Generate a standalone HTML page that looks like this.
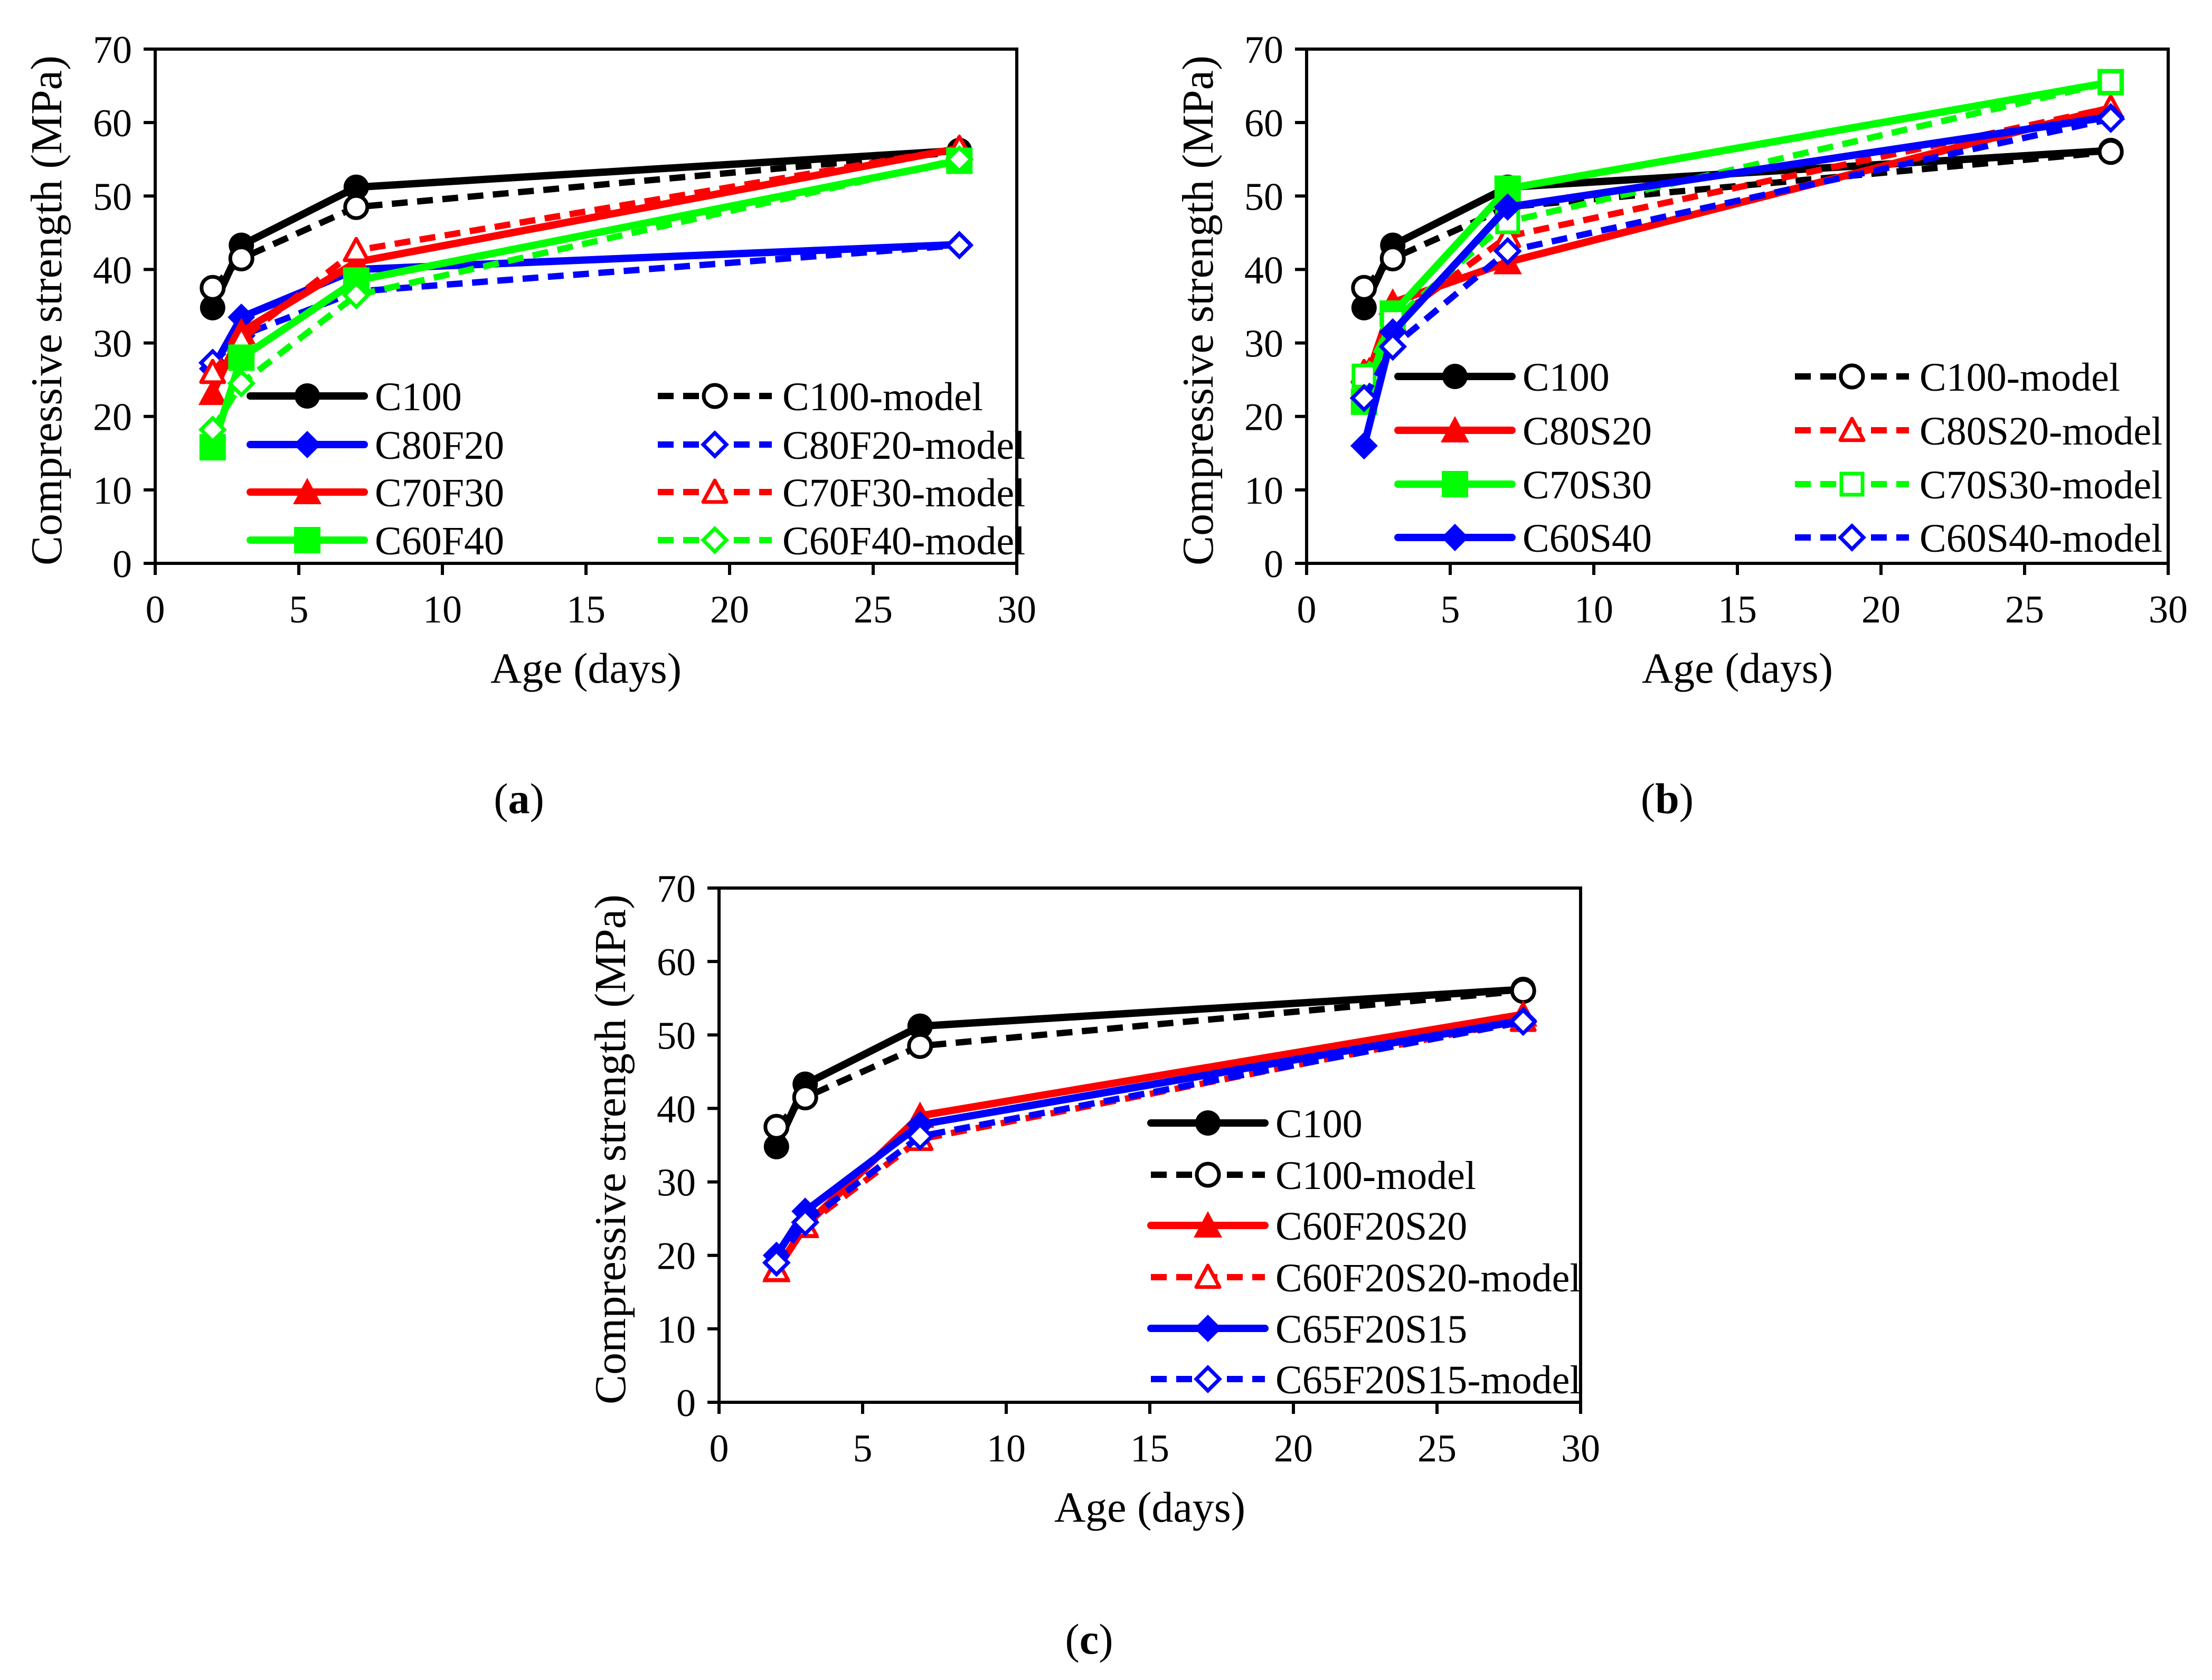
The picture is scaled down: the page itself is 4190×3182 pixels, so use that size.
<!DOCTYPE html>
<html><head><meta charset="utf-8"><style>
html,body{margin:0;padding:0;background:#fff}
svg{display:block}
text{font-family:"Liberation Serif",serif;fill:#000}
</style></head><body>
<svg id="chart" width="4190" height="3182" viewBox="0 0 4190 3182" xmlns="http://www.w3.org/2000/svg">
<rect width="4190" height="3182" fill="#fff"/>
</svg>
<script>
const ages = [2, 3, 7, 28];
const xTicks = [0, 5, 10, 15, 20, 25, 30];
const yTicks = [0, 10, 20, 30, 40, 50, 60, 70];
// panel a
const aC100 = [34.8, 43.3, 51.2, 56.2];
const aC100m = [37.5, 41.5, 48.5, 56.0];
const aC80F20 = [26.5, 33.5, 40.0, 43.4];
const aC80F20m = [27.3, 31.0, 37.0, 43.3];
const aC70F30 = [23.2, 31.5, 41.0, 56.5];
const aC70F30m = [26.0, 30.5, 42.6, 56.5];
const aC60F40 = [15.8, 28.0, 38.5, 54.8];
const aC60F40m = [18.2, 24.5, 36.5, 55.0];
// panel b
const bC100 = [34.8, 43.3, 51.2, 56.2];
const bC100m = [37.5, 41.5, 48.5, 56.0];
const bC80S20 = [24.0, 35.5, 41.0, 62.0];
const bC80S20m = [26.0, 33.0, 44.5, 62.0];
const bC70S30 = [22.0, 34.0, 51.0, 65.5];
const bC70S30m = [25.5, 33.0, 46.5, 65.5];
const bC60S40 = [16.0, 31.5, 48.5, 60.8];
const bC60S40m = [22.5, 29.5, 42.5, 60.5];
// panel c
const cC100 = [34.8, 43.3, 51.2, 56.2];
const cC100m = [37.5, 41.5, 48.5, 56.0];
const cC60F20S20 = [18.0, 24.0, 39.0, 52.8];
const cC60F20S20m = [18.0, 24.0, 35.8, 52.0];
const cC65F20S15 = [20.0, 26.0, 37.8, 52.0];
const cC65F20S15m = [19.0, 24.5, 36.2, 51.8];

const NS = "http://www.w3.org/2000/svg";
const svg = document.getElementById('chart');
function mk(tag, attrs, parent) {
  const e = document.createElementNS(NS, tag);
  for (const k in attrs) e.setAttribute(k, attrs[k]);
  (parent || svg).appendChild(e);
  return e;
}
const COL = {k:'#000', b:'#0000ff', r:'#ff0000', g:'#00ff00'};

function marker(g, type, color, open, cx, cy) {
  const fill = open ? '#fff' : color;
  const sw = open ? 7 : 0;
  let m;
  if (type === 'circle') m = mk('circle', {cx, cy, r: open ? 21 : 24, fill, stroke: color, 'stroke-width': sw}, g);
  else if (type === 'diamond') { const s = open ? 22 : 26; m = mk('polygon', {points: `${cx},${cy-s} ${cx+s},${cy} ${cx},${cy+s} ${cx-s},${cy}`, fill, stroke: color, 'stroke-width': sw}, g); }
  else if (type === 'triangle') { const s = open ? 22 : 27; m = mk('polygon', {points: `${cx},${cy-s} ${cx+s},${cy+s*0.85} ${cx-s},${cy+s*0.85}`, fill, stroke: color, 'stroke-width': sw, 'stroke-linejoin':'round'}, g); }
  else { const s = open ? 20 : 25; m = mk('rect', {x: cx-s, y: cy-s, width: 2*s, height: 2*s, fill, stroke: color, 'stroke-width': sw}, g); }
  
  
}

function panel(id, x0, y0, series, legendPos, caption, capX, capY) {
  const W = 1632, H = 974;
  const sx = v => x0 + v / 30 * W;
  const sy = v => y0 - v / 70 * H;
  const g = mk('g', {});
  
  
  const box = mk('rect', {x: x0, y: y0 - H, width: W, height: H, fill: 'none', stroke: '#000', 'stroke-width': 6}, g);
  
  
  yTicks.forEach(t => {
    mk('line', {x1: x0 - 22, x2: x0, y1: sy(t), y2: sy(t), stroke: '#000', 'stroke-width': 6}, g);
    const tl = mk('text', {x: x0 - 44, y: sy(t) + 26, 'font-size': 74, 'text-anchor': 'end'}, g);
    tl.textContent = t;
    
    
  });
  xTicks.forEach(t => {
    mk('line', {x1: sx(t), x2: sx(t), y1: y0, y2: y0 + 22, stroke: '#000', 'stroke-width': 6}, g);
    const tl = mk('text', {x: sx(t), y: y0 + 112, 'font-size': 74, 'text-anchor': 'middle'}, g);
    tl.textContent = t;
    
    
  });
  const yt = mk('text', {x: 0, y: 0, 'font-size': 84, 'text-anchor': 'middle', transform: `translate(${x0 - 178},${y0 - H/2 + 8}) rotate(-90)`}, g);
  yt.textContent = 'Compressive strength (MPa)';
  
  
  const xt = mk('text', {x: x0 + W/2, y: y0 + 226, 'font-size': 82, 'text-anchor': 'middle'}, g);
  xt.textContent = 'Age (days)';
  
  
  series.forEach(s => {
    const sg = mk('g', {}, g);
    
    
    const pts = ages.map((a, i) => `${sx(a)},${sy(s.vals[i])}`).join(' ');
    const attrs = {points: pts, fill: 'none', stroke: COL[s.c], 'stroke-width': s.dash ? 12 : 14, 'stroke-linejoin': 'round', 'stroke-linecap': 'round'};
    if (s.dash) { attrs['stroke-dasharray'] = '30 18'; attrs['stroke-linecap'] = 'butt'; }
    const pl = mk('polyline', attrs, sg);
    
    
    ages.forEach((a, i) => marker(sg, s.m, COL[s.c], s.dash, sx(a), sy(s.vals[i])));
  });
  const lg = mk('g', {}, g);
  
  
  series.forEach((s, i) => {
    const p = legendPos[i];
    const eg = mk('g', {}, lg);
    
    
    const la = {x1: p[0], x2: p[0] + 216, y1: p[1], y2: p[1], stroke: COL[s.c], 'stroke-width': s.dash ? 12 : 14, 'stroke-linecap': 'round'};
    if (s.dash) { la['stroke-dasharray'] = '30 18'; la['stroke-linecap'] = 'butt'; }
    mk('line', la, eg);
    marker(eg, s.m, COL[s.c], s.dash, p[0] + 108, p[1]);
    const t = mk('text', {x: p[0] + 236, y: p[1] + 27, 'font-size': 76}, eg);
    t.textContent = s.name;
  });
  const cp = mk('text', {x: capX, y: capY, 'font-size': 82, 'text-anchor': 'middle'}, g);
  
  
  cp.innerHTML = '(<tspan font-weight="bold">' + caption + '</tspan>)';
}

panel('a', 294, 1067, [
  {name:'C100', vals:aC100, c:'k', m:'circle', dash:false},
  {name:'C100-model', vals:aC100m, c:'k', m:'circle', dash:true},
  {name:'C80F20', vals:aC80F20, c:'b', m:'diamond', dash:false},
  {name:'C80F20-model', vals:aC80F20m, c:'b', m:'diamond', dash:true},
  {name:'C70F30', vals:aC70F30, c:'r', m:'triangle', dash:false},
  {name:'C70F30-model', vals:aC70F30m, c:'r', m:'triangle', dash:true},
  {name:'C60F40', vals:aC60F40, c:'g', m:'square', dash:false},
  {name:'C60F40-model', vals:aC60F40m, c:'g', m:'diamond', dash:true}
], [[474,750],[1246,750],[474,842],[1246,842],[474,932],[1246,932],[474,1023],[1246,1023]], 'a', 983, 1540);

panel('b', 2475, 1067, [
  {name:'C100', vals:bC100, c:'k', m:'circle', dash:false},
  {name:'C100-model', vals:bC100m, c:'k', m:'circle', dash:true},
  {name:'C80S20', vals:bC80S20, c:'r', m:'triangle', dash:false},
  {name:'C80S20-model', vals:bC80S20m, c:'r', m:'triangle', dash:true},
  {name:'C70S30', vals:bC70S30, c:'g', m:'square', dash:false},
  {name:'C70S30-model', vals:bC70S30m, c:'g', m:'square', dash:true},
  {name:'C60S40', vals:bC60S40, c:'b', m:'diamond', dash:false},
  {name:'C60S40-model', vals:bC60S40m, c:'b', m:'diamond', dash:true}
], [[2648,713],[3400,713],[2648,815],[3400,815],[2648,917],[3400,917],[2648,1018],[3400,1018]], 'b', 3158, 1540);

panel('c', 1362, 2656, [
  {name:'C100', vals:cC100, c:'k', m:'circle', dash:false},
  {name:'C100-model', vals:cC100m, c:'k', m:'circle', dash:true},
  {name:'C60F20S20', vals:cC60F20S20, c:'r', m:'triangle', dash:false},
  {name:'C60F20S20-model', vals:cC60F20S20m, c:'r', m:'triangle', dash:true},
  {name:'C65F20S15', vals:cC65F20S15, c:'b', m:'diamond', dash:false},
  {name:'C65F20S15-model', vals:cC65F20S15m, c:'b', m:'diamond', dash:true}
], [[2180,2127],[2180,2225],[2180,2321],[2180,2419],[2180,2516],[2180,2612]], 'c', 2063, 3132);
</script>
</body></html>
